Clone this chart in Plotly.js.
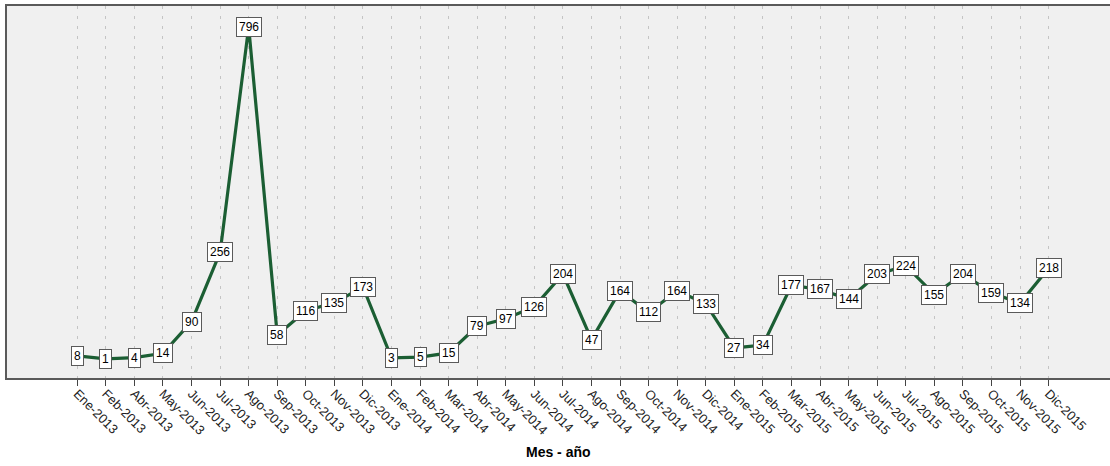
<!DOCTYPE html>
<html>
<head>
<meta charset="utf-8">
<script src="https://cdn.plot.ly/plotly-3.0.1.min.js"></script>
<style>html,body{margin:0;padding:0;background:#fff;overflow:hidden;}#chart{width:1110px;height:466px;}</style>
</head>
<body>
<div id="chart"></div>
<script>
const categories = ["Ene-2013","Feb-2013","Abr-2013","May-2013","Jun-2013","Jul-2013","Ago-2013","Sep-2013","Oct-2013","Nov-2013","Dic-2013",
  "Ene-2014","Feb-2014","Mar-2014","Abr-2014","May-2014","Jun-2014","Jul-2014","Ago-2014","Sep-2014","Oct-2014","Nov-2014","Dic-2014",
  "Ene-2015","Feb-2015","Mar-2015","Abr-2015","May-2015","Jun-2015","Jul-2015","Ago-2015","Sep-2015","Oct-2015","Nov-2015","Dic-2015"];
const values = [8,1,4,14,90,256,796,58,116,135,173,
  3,5,15,79,97,126,204,47,164,112,164,133,
  27,34,177,167,144,203,224,155,204,159,134,218];
const xTitle = "Mes - año";

const FONT = "Liberation Sans, Arial, sans-serif";
const annotations = categories.map((c, i) => ({
  x: c, y: values[i], xref: 'x', yref: 'y',
  text: String(values[i]), showarrow: false,
  bgcolor: '#ffffff', bordercolor: '#5a5a5a', borderwidth: 1, borderpad: 2,
  font: {family: FONT, size: 12, color: '#000'}
}));
annotations.push({
  text: '<b>' + xTitle + '</b>', xref: 'paper', yref: 'paper',
  x: 0.5, y: -0.2, showarrow: false, yanchor: 'middle',
  font: {family: FONT, size: 14, color: '#000'}
});

const trace = {
  x: categories, y: values, type: 'scatter', mode: 'lines',
  line: {color: '#1b5e33', width: 3.2},
  hoverinfo: 'skip'
};

const layout = {
  width: 1110, height: 466,
  margin: {l: 7, r: 0, t: 6, b: 88},
  paper_bgcolor: '#ffffff', plot_bgcolor: '#f0f0f0',
  showlegend: false,
  xaxis: {
    type: 'category', range: [-2.46, 36.15],
    showgrid: true, gridcolor: '#c4c4c4', gridwidth: 1, griddash: '3px,7px',
    showline: true, linecolor: '#5a5a5a', linewidth: 2, mirror: true,
    ticks: 'outside', ticklen: 6, tickcolor: '#444', tickwidth: 1,
    ticklabelstandoff: -5,
    tickangle: 45, tickfont: {family: FONT, size: 13, color: '#222'},
    zeroline: false, fixedrange: true
  },
  yaxis: {
    range: [-45, 846], showgrid: false, zeroline: false,
    showticklabels: false, ticks: '',
    showline: true, linecolor: '#5a5a5a', linewidth: 2, mirror: false,
    fixedrange: true
  },
  annotations: annotations
};
Plotly.newPlot('chart', [trace], layout, {displayModeBar: false, staticPlot: true});
</script>
</body>
</html>
